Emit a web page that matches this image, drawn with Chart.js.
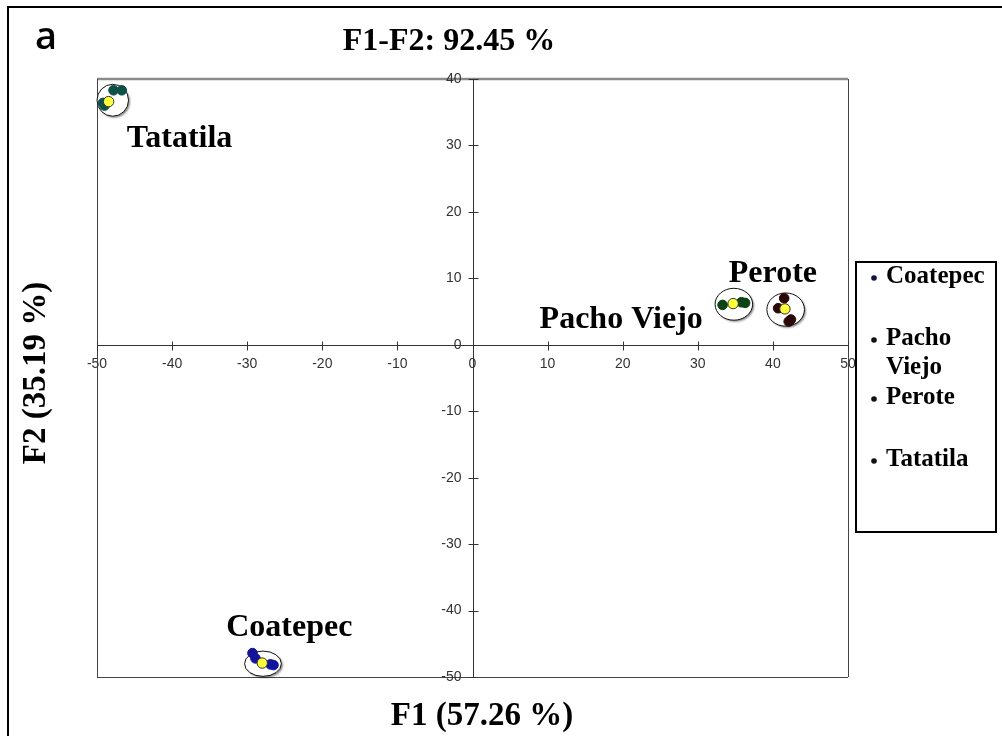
<!DOCTYPE html>
<html><head><meta charset="utf-8">
<script src="https://cdn.jsdelivr.net/npm/chart.js@4.4.1/dist/chart.umd.min.js"></script>
<style>html,body{margin:0;padding:0;background:#fff;} canvas{display:block;}</style>
</head><body>
<canvas id="c" width="1002" height="736"></canvas>
<script>
// ---- data ----
const groups = ['Coatepec', 'Pacho Viejo', 'Perote', 'Tatatila'];
const coatepecX = [-29.3, -28.9, -26.9, -26.5];
const coatepecY = [-46.4, -47.2, -48.1, -48.2];
const pachoX = [33.3, 35.8, 36.3];
const pachoY = [6.0, 6.4, 6.3];
const peroteX = [41.5, 40.7, 42.4, 42.1];
const peroteY = [7.0, 5.5, 3.8, 3.5];
const tatatilaX = [-47.8, -46.7, -49.2, -49.0];
const tatatilaY = [38.3, 38.3, 36.4, 36.0];
const centroidX = [-28.0, 34.7, 41.6, -48.45];
const centroidY = [-47.9, 6.2, 5.4, 36.6];
// confidence ellipses (centre and half-axes in data units)
const ellipseX = [-27.9, 34.8, 41.7, -47.9];
const ellipseY = [-48.0, 6.1, 5.3, 36.8];
const ellipseRX = [2.45, 2.5, 2.5, 2.1];
const ellipseRY = [1.9, 2.4, 2.5, 2.4];
const xTicks = [-50, -40, -30, -20, -10, 0, 10, 20, 30, 40, 50];
const yTicks = [-50, -40, -30, -20, -10, 0, 10, 20, 30, 40];
const title = 'F1-F2: 92.45 %';
const xTitle = 'F1 (57.26 %)';
const yTitle = 'F2 (35.19 %)';
const panelLetter = 'a';

// ---- styles ----
const colors = ['#14149c', '#0d4416', '#2a0808', '#0d5047'];
const legendBullet = ['#10104a', '#111111', '#111111', '#111111'];
const labelAnchor = [[-24.4, -42.6], [19.8, 3.8], [40.0, 10.7], [-39.0, 31.0]];
const serif = '"Liberation Serif", "Times New Roman", serif';
const tickFont = '14px "Liberation Sans", Arial, sans-serif';

const zip = (xs, ys) => xs.map((x, i) => ({x, y: ys[i]}));
const seriesX = [coatepecX, pachoX, peroteX, tatatilaX];
const seriesY = [coatepecY, pachoY, peroteY, tatatilaY];

const datasets = [{
  label: 'centroids', data: zip(centroidX, centroidY), order: 0,
  pointRadius: 5.2, backgroundColor: '#ffff3a', borderColor: '#333', borderWidth: 1
}].concat(groups.map((g, i) => ({
  label: g, data: zip(seriesX[i], seriesY[i]), order: 1,
  pointRadius: 4.8, backgroundColor: colors[i], borderColor: colors[i], borderWidth: 1
})));

const decor = {
  id: 'decor',
  beforeDraw(chart) {
    const c = chart.ctx; c.save(); c.fillStyle = '#fff';
    c.fillRect(0, 0, chart.width, chart.height); c.restore();
  },
  beforeDatasetsDraw(chart) {
    const {ctx, scales: {x, y}, chartArea: a} = chart;
    ctx.save();
    // plot frame
    ctx.strokeStyle = '#8a8a8a'; ctx.lineWidth = 2.5;
    ctx.beginPath(); ctx.moveTo(a.left, a.top); ctx.lineTo(a.right, a.top); ctx.stroke();
    ctx.strokeStyle = '#444'; ctx.lineWidth = 1;
    ctx.beginPath();
    ctx.moveTo(a.left + 0.5, a.top); ctx.lineTo(a.left + 0.5, a.bottom);
    ctx.moveTo(a.right + 0.5, a.top); ctx.lineTo(a.right + 0.5, a.bottom);
    ctx.moveTo(a.left, a.bottom + 0.5); ctx.lineTo(a.right, a.bottom + 0.5);
    ctx.stroke();
    // axes through zero
    const x0 = Math.round(x.getPixelForValue(0)) + 0.5;
    const y0 = Math.round(y.getPixelForValue(0)) + 0.5;
    ctx.strokeStyle = '#333';
    ctx.beginPath();
    ctx.moveTo(a.left, y0); ctx.lineTo(a.right, y0);
    ctx.moveTo(x0, a.top); ctx.lineTo(x0, a.bottom);
    x.ticks.forEach(t => { const p = Math.round(x.getPixelForValue(t.value)) + 0.5; ctx.moveTo(p, y0 - 4); ctx.lineTo(p, y0 + 5); });
    y.ticks.forEach(t => { const p = Math.round(y.getPixelForValue(t.value)) + 0.5; ctx.moveTo(x0 - 5, p); ctx.lineTo(x0 + 5, p); });
    ctx.stroke();
    // y tick labels, left of the vertical axis
    ctx.fillStyle = '#333'; ctx.font = tickFont; ctx.textAlign = 'right'; ctx.textBaseline = 'middle';
    y.ticks.forEach(t => ctx.fillText(String(t.value), x0 - 12, y.getPixelForValue(t.value)));
    // ellipses
    ellipseX.forEach((ex, i) => {
      const cx = x.getPixelForValue(ex), cy = y.getPixelForValue(ellipseY[i]);
      const rx = Math.abs(x.getPixelForValue(ex + ellipseRX[i]) - cx);
      const ry = Math.abs(y.getPixelForValue(ellipseY[i] + ellipseRY[i]) - cy);
      ctx.save();
      ctx.shadowColor = 'rgba(0,0,0,0.45)'; ctx.shadowBlur = 2; ctx.shadowOffsetX = 1.5; ctx.shadowOffsetY = 1.5;
      ctx.fillStyle = '#fff';
      ctx.beginPath(); ctx.ellipse(cx, cy, rx, ry, 0, 0, Math.PI * 2); ctx.fill();
      ctx.restore();
      ctx.strokeStyle = '#111'; ctx.lineWidth = 1;
      ctx.beginPath(); ctx.ellipse(cx, cy, rx, ry, 0, 0, Math.PI * 2); ctx.stroke();
    });
    ctx.restore();
  },
  afterDraw(chart) {
    const {ctx, scales: {x, y}} = chart;
    ctx.save();
    // outer frame
    ctx.strokeStyle = '#000'; ctx.lineWidth = 2;
    ctx.beginPath(); ctx.moveTo(8, 736); ctx.lineTo(8, 7); ctx.lineTo(1002, 7); ctx.stroke();
    ctx.fillStyle = '#000'; ctx.textBaseline = 'middle'; ctx.textAlign = 'center';
    ctx.font = '600 38px "Open Sans", sans-serif';
    ctx.fillText(panelLetter, 46, 38);
    ctx.font = 'bold 32px ' + serif;
    ctx.fillText(title, 449, 42);
    ctx.font = 'bold 33px ' + serif;
    ctx.fillText(xTitle, 482, 716);
    ctx.save(); ctx.translate(36, 373); ctx.rotate(-Math.PI / 2); ctx.fillText(yTitle, 0, 0); ctx.restore();
    // cluster labels
    ctx.font = 'bold 32px ' + serif;
    groups.forEach((g, i) => ctx.fillText(g, x.getPixelForValue(labelAnchor[i][0]), y.getPixelForValue(labelAnchor[i][1])));
    // legend
    ctx.lineWidth = 2; ctx.strokeStyle = '#000';
    ctx.strokeRect(856, 262, 140, 270);
    ctx.font = 'bold 25px ' + serif; ctx.textAlign = 'left';
    const rows = [['Coatepec'], ['Pacho', 'Viejo'], ['Perote'], ['Tatatila']];
    const rowY = [277, 339, 398, 460];
    rows.forEach((r, i) => {
      ctx.fillStyle = legendBullet[i];
      ctx.beginPath(); ctx.arc(874, rowY[i] + 1, 2.8, 0, Math.PI * 2); ctx.fill();
      ctx.fillStyle = '#000';
      r.forEach((line, k) => ctx.fillText(line, 886, rowY[i] + k * 29));
    });
    ctx.restore();
  }
};

new Chart(document.getElementById('c'), {
  type: 'scatter',
  data: {datasets},
  options: {
    responsive: false, animation: false, devicePixelRatio: 1,
    layout: {padding: {left: 97, right: 154, top: 79, bottom: 59}},
    plugins: {legend: {display: false}, title: {display: false}, tooltip: {enabled: false}},
    scales: {
      x: {
        type: 'linear', min: -50, max: 50, position: {y: 0},
        afterBuildTicks: s => { s.ticks = xTicks.map(v => ({value: v})); },
        grid: {display: false, drawTicks: false}, border: {display: false},
        ticks: {padding: 11, color: '#333', font: {family: '"Liberation Sans", Arial', size: 14}, maxRotation: 0, autoSkip: false}
      },
      y: {
        type: 'linear', min: -50, max: 40, position: {x: 0},
        afterBuildTicks: s => { s.ticks = yTicks.map(v => ({value: v})); },
        grid: {display: false, drawTicks: false}, border: {display: false},
        ticks: {display: false}
      }
    }
  },
  plugins: [decor]
});
</script>
</body></html>
